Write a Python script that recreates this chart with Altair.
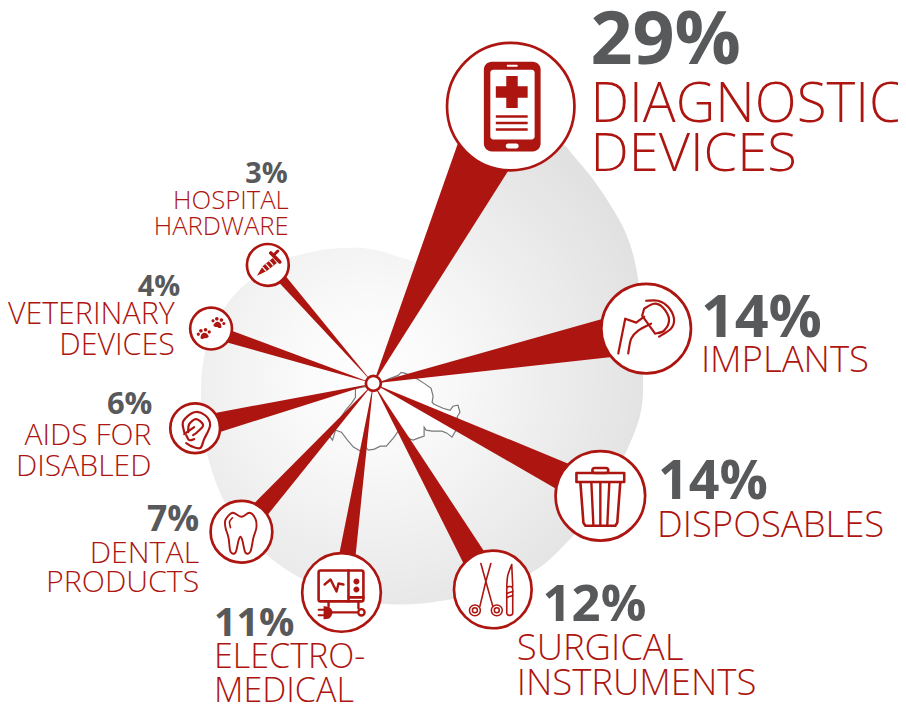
import math
import altair as alt
import pandas as pd

RED = "#ad1510"
GREY = "#58595b"
FONT = "Open Sans"
W, H = 894, 696

# ---- the nine categories
categories = ["DIAGNOSTIC DEVICES", "IMPLANTS", "DISPOSABLES", "SURGICAL INSTRUMENTS", "ELECTRO-MEDICAL",
              "DENTAL PRODUCTS", "AIDS FOR DISABLED", "VETERINARY DEVICES", "HOSPITAL HARDWARE"]
values = [29, 14, 14, 12, 11, 7, 6, 4, 3]

hub = (373, 383)
circle_x = [511, 647, 601, 493, 341, 240.5, 194, 210, 267]
circle_y = [105, 328, 496, 590, 593, 532, 428, 328, 264]
circle_r = [64, 45, 45, 39, 39.5, 31, 25, 21, 21]
wedge_dir = [25.9, 79.0, 116.2, 150.0, 188.6, 221.8, 255.9, 288.0, 318.8]
wedge_half = [6.5, 4.7, 3.8, 3.4, 2.7, 3.0, 3.5, 2.4, 1.9]

# ---- labels: (text, x, baseline, font size)
pct_left = [("29%", 591, 62, 74), ("14%", 702, 336, 59.5), ("14%", 659, 499, 54), ("12%", 543, 622, 51), ("11%", 213, 637, 39.5)]
pct_right = [("7%", 198, 531, 35.6), ("6%", 151, 414, 31), ("4%", 179, 295, 29), ("3%", 287, 182, 29)]
name_left = [("DIAGNOSTIC", 591, 120, 55), ("DEVICES", 591, 170, 54.5),
             ("IMPLANTS", 702, 371.5, 36.7), ("DISPOSABLES", 658, 537, 36.6),
             ("SURGICAL", 517, 660.5, 36.7), ("INSTRUMENTS", 517, 696, 36.7),
             ("ELECTRO-", 213, 668.5, 34.2), ("MEDICAL", 213, 703.5, 34.2)]
name_right = [("DENTAL", 198, 563, 30.4), ("PRODUCTS", 198, 593, 30.4),
              ("AIDS FOR", 150, 445, 30.2), ("DISABLED", 150, 476, 30.2),
              ("VETERINARY", 173.5, 323, 30.5), ("DEVICES", 173.5, 354, 30.5),
              ("HOSPITAL", 288, 208, 25.8), ("HARDWARE", 288, 234, 25.8)]

# ---- outlines
blob_x = [563, 573, 593, 613, 627, 637, 642, 644, 642, 630, 600, 567, 537, 495, 450, 403, 350, 297, 255, 225, 205, 200, 206, 230, 270, 310, 345, 375, 417, 430, 445, 470, 525]
blob_y = [142, 153, 177, 207, 233, 267, 310, 375, 410, 445, 505, 543, 570, 590, 600, 605, 600, 577, 545, 505, 450, 392, 345, 298, 265, 251, 247, 249, 262, 268, 210, 150, 115]

map_x = [381, 390, 398, 401, 405, 412, 418, 424, 431, 433, 432, 434, 443, 450, 453, 458, 460, 457, 460, 452, 447, 442, 432, 426, 424, 424, 418, 413, 410, 404, 398, 393, 386, 380, 374, 368, 365, 360, 353, 347, 341, 335, 332, 329, 335, 340, 345, 351, 355, 355, 361, 366, 368]
map_y = [382, 378, 375, 372, 373, 376, 379, 383, 388, 396, 402, 404, 408, 410, 406, 405, 412, 417, 423, 437, 433, 431, 431, 430, 427, 436, 438, 440, 439, 434, 431, 438, 446, 446, 449, 450, 447, 451, 447, 440, 432, 430, 440, 436, 423, 418, 410, 403, 397, 388, 387, 386, 386]


def P(points, close=False):
    s = "M%g,%g" % points[0] + "".join("L%g,%g" % p for p in points[1:])
    return s + ("Z" if close else "")


def S(points, close=False):
    """Catmull-Rom through the points, written as cubic curves."""
    n = len(points)
    out = "M%g,%g" % points[0]
    for i in range(n if close else n - 1):
        if close:
            p0, p1, p2, p3 = points[(i - 1) % n], points[i], points[(i + 1) % n], points[(i + 2) % n]
        else:
            p0, p1, p2, p3 = points[max(i - 1, 0)], points[i], points[i + 1], points[min(i + 2, n - 1)]
        c1 = (p1[0] + (p2[0] - p0[0]) / 6, p1[1] + (p2[1] - p0[1]) / 6)
        c2 = (p2[0] - (p3[0] - p1[0]) / 6, p2[1] - (p3[1] - p1[1]) / 6)
        out += "C%.2f,%.2f %.2f,%.2f %g,%g" % (c1 + c2 + p2)
    return out + ("Z" if close else "")


def O(cx, cy, rx, ry=None):
    ry = ry or rx
    return "M%g,%gA%g,%g 0 1 1 %g,%gA%g,%g 0 1 1 %g,%gZ" % (cx - rx, cy, rx, ry, cx + rx, cy, rx, ry, cx - rx, cy)


def R(x0, y0, x1, y1, r=0):
    if r == 0:
        return P([(x0, y0), (x1, y0), (x1, y1), (x0, y1)], True)
    return ("M%g,%gL%g,%gA%g,%g 0 0 1 %g,%gL%g,%gA%g,%g 0 0 1 %g,%gL%g,%gA%g,%g 0 0 1 %g,%gL%g,%gA%g,%g 0 0 1 %g,%gZ"
            % (x0 + r, y0, x1 - r, y0, r, r, x1, y0 + r, x1, y1 - r, r, r, x1 - r, y1, x0 + r, y1, r, r, x0, y1 - r, x0, y0 + r, r, r, x0 + r, y0))


def paw(cx, cy, rot):
    c, s = math.cos(rot), math.sin(rot)
    def T(x, y):
        return cx + x * c - y * s, cy + x * s + y * c
    out = S([T(-4.2, 2.6), T(-2.4, -0.8), T(0, -1.8), T(2.4, -0.8), T(4.2, 2.6), T(2, 4), T(0, 3.4), T(-2, 4)], True)
    for x, y, r in [(-5.6, -1.6, 1.6), (-2.4, -4.4, 1.8), (2.4, -4.4, 1.8), (5.6, -1.6, 1.6)]:
        px, py = T(x, y)
        out += O(px, py, r)
    return out


# ---- icons, in pixels around each circle's centre: (circle, kind, path, stroke width)
icons = [
    # phone
    (0, "fill", R(-27, -45, 30, 45, 8), 0),
    (0, "white", R(-20.5, -37, 24, 33, 3), 0),
    (0, "white", R(-4, -42, 7, -40, 1), 0),
    (0, "white", R(-5, 37, 8, 42, 2.5), 0),
    (0, "fill", P([(-4.5, -30.7), (7, -30.7), (7, -20.5), (17, -20.5), (17, -9), (7, -9), (7, 1.3), (-4.5, 1.3), (-4.5, -9), (-15, -9), (-15, -20.5), (-4.5, -20.5)], True), 0),
    (0, "fill", R(-15, 8.7, 17, 11.3), 0),
    (0, "fill", R(-15, 15.3, 17, 17.7), 0),
    (0, "fill", R(-15, 21.7, 17, 24.3), 0),
    # hip implant
    (1, "line", S([(0, -28), (12, -28), (22, -22), (28, -10), (25, 0), (13, 8)]), 2.2),
    (1, "line", S([(-2, -20), (8, -25), (17, -21), (23, -9), (18, 2), (9, 5)]) + P([(9, 5), (-4, -13), (-2, -20)]), 2.2),
    (1, "line", P([(-28, 25), (-21, -10), (-10, -6), (-2, -12)]), 2.2),
    (1, "line", S([(-18, 25), (-15, 10), (-8, 2), (5, -5)]), 2.2),
    # bin
    (2, "line", R(-24, -23, 24, -14), 2.6),
    (2, "line", R(-8, -28, 8, -23, 2.5), 2.6),
    (2, "line", P([(-20, -13), (-17, 27), (-15, 30), (15, 30), (17, 27), (20, -13)]), 2.6),
    (2, "line", P([(-9, -13), (-7, 29)]) + P([(0, -13), (0, 29)]) + P([(9, -13), (7, 29)]), 2.4),
    # forceps and scalpel
    (3, "line", P([(-12, -26), (-7, -8), (0, 17)]) + P([(-2, -26), (-7, -8), (-13, 17)]), 1.6),
    (3, "line", O(-18, 21, 5.5) + O(-18, 21, 2.5) + O(4, 21, 5.5) + O(4, 21, 2.5), 1.5),
    (3, "line", R(14, -3, 20, 26, 2.5), 1.6),
    (3, "line", S([(19, -25), (15, -14), (14, -3)]) + P([(19, -25), (20, -3)]) + P([(14, 4), (20, 2)]) + P([(14, 8), (20, 6)]), 1.6),
    # electro-medical unit
    (4, "line", R(-23, -22, 22, 9, 2), 2.6),
    (4, "line", P([(7, -22), (7, 9)]) + P([(7, 5), (22, 5)]), 2.6),
    (4, "line", P([(-17, -8), (-11, -13), (-5, -1), (-3, -9), (2, -8)]), 2.4),
    (4, "fill", O(15, -11, 3) + O(15, -3, 3), 0),
    (4, "line", P([(-9, 20), (16, 20)]) + P([(-13, 9), (-13, 14)]) + P([(17, 9), (17, 16)]), 2.4),
    (4, "line", O(20, 20, 3.2), 2.4),
    (4, "fill", S([(-18, 14), (-12, 15), (-9, 20), (-12, 26), (-18, 27)]) + "Z", 0),
    (4, "line", P([(-23, 17.5), (-18, 17.5)]) + P([(-23, 23), (-18, 23)]), 2),
    # tooth
    (5, "line", S([(0, -15), (8, -19), (14, -13), (15, -4), (12, 6), (9, 20), (4, 21), (1, 9), (-1, 5), (-3, 9), (-6, 21), (-11, 20), (-13, 6), (-16, -4), (-16, -12), (-9, -19)], True), 1.9),
    (5, "line", S([(-9, -14), (-12, -10), (-11, -4)]), 1.6),
    # ear
    (6, "line", S([(-11, 4), (-12, -7), (-1, -16), (10, -13), (15, -3), (9, 11), (5, 20), (-4, 18), (-9, 15)]), 2.2),
    (6, "line", S([(-7, 4), (-6, -4), (1, -9), (8, -3), (2, 4), (-2, 7)]), 2.2),
    (6, "line", P([(-11, 6), (-1, -1)]), 2.2),
    (6, "line", S([(-9, 7), (-6, 12), (-1, 11)]), 2.2),
    # paws
    (7, "fill", paw(7, -5, 0.25) + paw(-7, 6, -0.2), 0),
    # screw
    (8, "fill", P([(-11, 11), (-5, 1), (5, -7), (9, -2), (-1, 6)], True), 0),
    (8, "whiteline", P([(-5.5, 2), (-1.5, 6.5)]) + P([(-2, -1), (2, 3.5)]) + P([(1.5, -4), (5.5, 0.5)]), 1.3),
    (8, "line", P([(3, -12), (12, -3)]), 3.6),
    (8, "line", P([(7, -11), (10, -14)]), 3),
]

# ---- scales shared by every layer
X = alt.X("x:Q", scale=alt.Scale(domain=[6, 6 + W], nice=False, zero=False), axis=None)
Y = alt.Y("y:Q", scale=alt.Scale(domain=[7.5 + H, 7.5], nice=False, zero=False), axis=None)
layers = []

gradient = alt.RadialGradient(
    gradient="radial", x1=0.39, y1=0.53, r1=0, x2=0.39, y2=0.53, r2=0.6,
    stops=[alt.GradientStop(offset=0, color="#ffffff"), alt.GradientStop(offset=0.3, color="#f8f8f8"),
           alt.GradientStop(offset=1, color="#e1e1e1")])


def shape_layer(cx, cy, path, **style):
    frame = pd.DataFrame({"x": [cx], "y": [cy]})
    return alt.Chart(frame).mark_point(shape=path, size=4, opacity=1, **style).encode(x=X, y=Y)


# background drop: path relative to its own anchor
ax, ay = 420, 370
blob = S([(a - ax, b - ay) for a, b in zip(blob_x, blob_y)], True)
layers.append(shape_layer(ax, ay, blob, filled=True, fill=gradient, strokeWidth=0))

# map of Switzerland
mx, my = 393, 412
swiss = P([(a - mx, b - my) for a, b in zip(map_x, map_y)], True)
layers.append(shape_layer(mx, my, swiss, filled=False, fill="#ffffff", stroke="#77787a", strokeWidth=1.2))

# wedges
wedges = pd.DataFrame({
    "category": categories,
    "x": [hub[0]] * 9, "y": [hub[1]] * 9,
    "t0": [math.radians(d - h) for d, h in zip(wedge_dir, wedge_half)],
    "t1": [math.radians(d + h) for d, h in zip(wedge_dir, wedge_half)],
    "r": [math.hypot(a - hub[0], b - hub[1]) for a, b in zip(circle_x, circle_y)],
})
layers.append(alt.Chart(wedges).mark_arc(fill=RED).encode(
    x=X, y=Y,
    theta=alt.Theta("t0:Q", scale=None, stack=None), theta2=alt.Theta2("t1:Q"),
    radius=alt.Radius("r:Q", scale=None)))

# circles
circles = pd.DataFrame({"x": circle_x + [hub[0]], "y": circle_y + [hub[1]],
                        "s": [4 * r * r for r in circle_r] + [4 * 7.5 * 7.5]})
layers.append(alt.Chart(circles).mark_point(shape="circle", filled=True, fill="#ffffff", stroke=RED, strokeWidth=2.7, opacity=1).encode(
    x=X, y=Y, size=alt.Size("s:Q", scale=None, legend=None)))

# icons
for idx, kind, path, sw in icons:
    if kind == "fill":
        style = dict(filled=True, fill=RED, strokeWidth=0)
    elif kind == "white":
        style = dict(filled=True, fill="#ffffff", strokeWidth=0)
    elif kind == "whiteline":
        style = dict(filled=False, stroke="#ffffff", strokeWidth=sw)
    else:
        style = dict(filled=False, stroke=RED, strokeWidth=sw, strokeCap="round", strokeJoin="round")
    layers.append(shape_layer(circle_x[idx], circle_y[idx], path, **style))


def text_layer(rows, weight, align, color):
    frame = pd.DataFrame(rows, columns=["label", "x", "y", "fs"])
    return alt.Chart(frame).mark_text(font=FONT, fontWeight=weight, align=align, baseline="alphabetic", color=color).encode(
        x=X, y=Y, text="label:N", size=alt.Size("fs:Q", scale=None, legend=None))


layers.append(text_layer(pct_left, 700, "left", GREY))
layers.append(text_layer(pct_right, 700, "right", GREY))
layers.append(text_layer(name_left, 300, "left", RED))
layers.append(text_layer(name_right, 300, "right", RED))

chart = alt.layer(*layers).properties(
    width=W, height=H, padding=0, background="#ffffff", autosize=alt.AutoSizeParams(type="none")
).configure_view(stroke=None)

chart.save("out.html", embed_options={"renderer": "svg", "actions": False})
